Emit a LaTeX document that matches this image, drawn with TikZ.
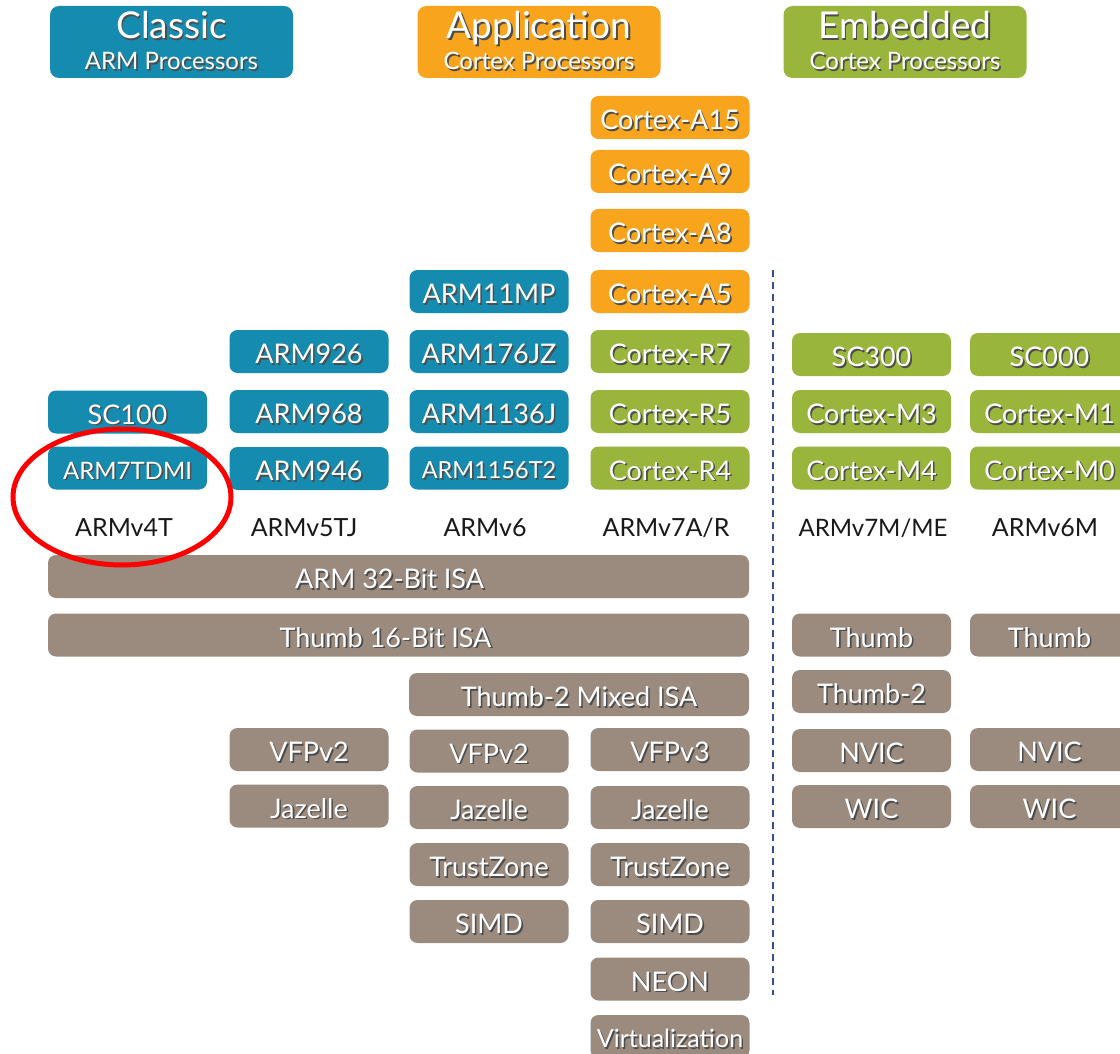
\documentclass[tikz,border=0pt]{standalone}
\usepackage{fontspec}
\setmainfont{Lato}
\definecolor{armblue}{RGB}{22,139,176}
\definecolor{armorange}{RGB}{248,164,28}
\definecolor{armgreen}{RGB}{153,181,60}
\definecolor{armbrown}{RGB}{154,139,126}
\definecolor{shadowc}{RGB}{45,45,45}
\definecolor{dashblue}{RGB}{55,75,150}
\definecolor{labelc}{RGB}{25,25,25}
\newcommand\shd[1]{\leavevmode\rlap{\kern1.6pt\raisebox{-1.6pt}{\textcolor{shadowc!85}{#1}}}\textcolor{white}{#1}}
\newcommand\fs[1]{\fontsize{#1}{#1}\selectfont}
\tikzset{
  box/.style={rounded corners=8pt, minimum width=159pt, minimum height=43pt, inner sep=0pt,
              text height=24pt, text depth=0pt, font=\fs{27}},
  bluebox/.style={box, fill=armblue},
  orangebox/.style={box, fill=armorange},
  greenbox/.style={box, fill=armgreen},
  brownbox/.style={box, fill=armbrown},
  header/.style={rounded corners=9pt, minimum width=243pt, minimum height=72pt, inner sep=0pt},
  htitle/.style={font=\fs{37}, inner sep=0pt, text height=27pt, text depth=0pt},
  hsub/.style={font=\fs{24}, inner sep=0pt, text height=17pt, text depth=0pt},
  archlabel/.style={font=\fs{25}, text=labelc, inner sep=0pt, text height=18pt, text depth=0pt},
  divider/.style={dashblue, line width=1.6pt, dash pattern=on 7pt off 5pt},
  redmark/.style={red, line width=5pt}
}
\begin{document}
\begin{tikzpicture}[x=1pt,y=-1pt]
\useasboundingbox[fill=white] (0,0) rectangle (1120,1054);

% headers
\node[header, fill=armblue] (hclassic) at (171.5,42) {};
\node[htitle] (tclassic) at (171.5,25) {\shd{Classic}};
\node[hsub] (sclassic) at (171.5,61) {\shd{ARM Processors}};
\node[header, fill=armorange] (happ) at (539,42) {};
\node[htitle] (tapp) at (539,25) {\shd{Application}};
\node[hsub] (sapp) at (539,61) {\shd{Cortex Processors}};
\node[header, fill=armgreen] (hemb) at (905,42) {};
\node[htitle] (temb) at (905,25) {\shd{Embedded}};
\node[hsub] (semb) at (905,61) {\shd{Cortex Processors}};

% column 1
\node[bluebox] (sc100) at (127.5,412) {\shd{SC100}};
\node[bluebox, font=\fs{24}, text height=22pt] (arm7) at (127.5,468) {\shd{ARM7TDMI}};

% column 2
\node[bluebox] (arm926) at (309,351.5) {\shd{ARM926}};
\node[bluebox] (arm968) at (309,411.5) {\shd{ARM968}};
\node[bluebox] (arm946) at (309,468.5) {\shd{ARM946}};

% column 3
\node[bluebox] (arm11mp) at (489,291.5) {\shd{ARM11MP}};
\node[bluebox] (arm176) at (489,351.5) {\shd{ARM176JZ}};
\node[bluebox] (arm1136) at (489,411.5) {\shd{ARM1136J}};
\node[bluebox, font=\fs{23.5}, text height=21.5pt] (arm1156) at (489,468) {\shd{ARM1156T2}};

% column 4
\node[orangebox] (a15) at (670,117.5) {\shd{Cortex-A15}};
\node[orangebox] (a9) at (670,171.5) {\shd{Cortex-A9}};
\node[orangebox] (a8) at (670,230.5) {\shd{Cortex-A8}};
\node[orangebox] (a5) at (670,291.5) {\shd{Cortex-A5}};
\node[greenbox] (r7) at (670,351.5) {\shd{Cortex-R7}};
\node[greenbox] (r5) at (670,411.5) {\shd{Cortex-R5}};
\node[greenbox] (r4) at (670,468) {\shd{Cortex-R4}};

% column 5
\node[greenbox] (sc300) at (871.5,354.5) {\shd{SC300}};
\node[greenbox] (m3) at (871.5,411.5) {\shd{Cortex-M3}};
\node[greenbox] (m4) at (871.5,468) {\shd{Cortex-M4}};

% column 6
\node[greenbox] (sc000) at (1049.5,354.5) {\shd{SC000}};
\node[greenbox] (m1) at (1049.5,411.5) {\shd{Cortex-M1}};
\node[greenbox] (m0) at (1049.5,468) {\shd{Cortex-M0}};

% architecture labels
\node[archlabel] (v4t) at (124,527) {ARMv4T};
\node[archlabel] (v5tj) at (304,527) {ARMv5TJ};
\node[archlabel] (v6) at (485,527) {ARMv6};
\node[archlabel] (v7ar) at (666,527) {ARMv7A/R};
\node[archlabel, font=\fs{24}] (v7m) at (873,527) {ARMv7M/ME};
\node[archlabel] (v6m) at (1045,527) {ARMv6M};

% ISA bars
\node[brownbox, minimum width=701pt] (arm32) at (398.5,576.5) {\shd{ARM 32-Bit ISA}\kern18pt};
\node[brownbox, minimum width=701pt] (thumb16) at (398.5,635) {\shd{Thumb 16-Bit ISA}\kern26pt};
\node[brownbox, minimum width=340pt] (thumb2mix) at (579,694.5) {\shd{Thumb-2 Mixed ISA}};
\node[brownbox] (thumb5) at (871.5,635) {\shd{Thumb}};
\node[brownbox] (thumb6) at (1049.5,635) {\shd{Thumb}};
\node[brownbox] (thumb2) at (871.5,691.5) {\shd{Thumb-2}};

% features column 2
\node[brownbox] (vfp2a) at (309,749.5) {\shd{VFPv2}};
\node[brownbox] (jaza) at (309,806) {\shd{Jazelle}};

% features column 3
\node[brownbox] (vfp2b) at (489,751) {\shd{VFPv2}};
\node[brownbox] (jazb) at (489,807.5) {\shd{Jazelle}};
\node[brownbox] (tzb) at (489,864.5) {\shd{TrustZone}};
\node[brownbox] (simdb) at (489,921.5) {\shd{SIMD}};

% features column 4
\node[brownbox] (vfp3) at (670,749.5) {\shd{VFPv3}};
\node[brownbox] (jazc) at (670,807.5) {\shd{Jazelle}};
\node[brownbox] (tzc) at (670,864.5) {\shd{TrustZone}};
\node[brownbox] (simdc) at (670,921.5) {\shd{SIMD}};
\node[brownbox] (neon) at (670,979) {\shd{NEON}};
\node[brownbox, font=\fs{25}, text height=22.5pt] (virt) at (670,1036.5) {\shd{Virtualization}};

% features column 5 / 6
\node[brownbox] (nvic5) at (871.5,750.5) {\shd{NVIC}};
\node[brownbox] (wic5) at (871.5,806.5) {\shd{WIC}};
\node[brownbox] (nvic6) at (1049.5,749.5) {\shd{NVIC}};
\node[brownbox] (wic6) at (1049.5,806.5) {\shd{WIC}};

% divider
\coordinate (dtop) at (773,270);
\coordinate (dbot) at (773,995);
\draw[divider] (dtop) -- (dbot);

% red ellipse
\coordinate (ec) at (122,497);
\draw[redmark] (ec) ellipse [x radius=109, y radius=68];
\end{tikzpicture}
\end{document}
